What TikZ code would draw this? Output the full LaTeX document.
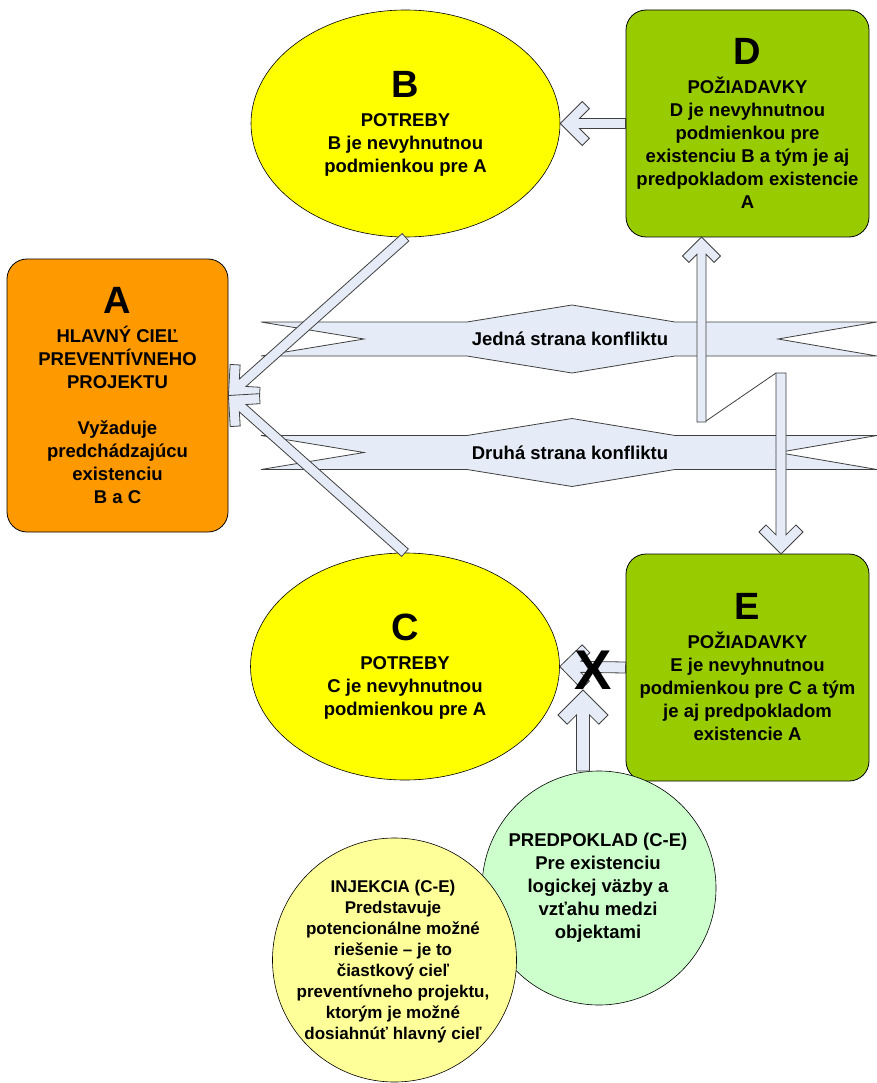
\documentclass[tikz,border=0pt]{standalone}
\usepackage{fontspec}
\setmainfont{Liberation Sans}
\usetikzlibrary{calc,shapes.geometric,positioning,backgrounds}

\definecolor{orangeA}{HTML}{FF9900}
\definecolor{greenD}{HTML}{99CC00}
\definecolor{yellowB}{HTML}{FFFF00}
\definecolor{paleyellow}{HTML}{FFFF99}
\definecolor{palegreen}{HTML}{CCFFCC}
\definecolor{arrowfill}{HTML}{E6ECF7}
\definecolor{arrowline}{HTML}{404040}

\newcommand{\bigletter}[1]{{\fontsize{38}{40}\selectfont #1}\\[6pt]}

% block arrow with an open chevron head: tail, head, half width, barb
\newcommand{\chevarrow}[4]{%
  \pgfmathsetmacro{\arrThk}{2*#3}
  \pgfmathsetmacro{\arrBa}{#4+0.707*\arrThk}
  \pgfmathsetmacro{\arrBb}{#4-0.707*\arrThk}
  \pgfmathsetmacro{\arrJn}{#3+1.414*\arrThk}
  \draw[fatarrow] (#2)
    -- ($(#2)!#4pt!(#1)!#4pt!90:(#1)$)
    -- ($(#2)!\arrBa pt!(#1)!\arrBb pt!90:(#1)$)
    -- ($(#2)!\arrJn pt!(#1)!#3pt!90:(#1)$)
    -- ($(#1)!#3pt!-90:(#2)$)
    -- ($(#1)!#3pt!90:(#2)$)
    -- ($(#2)!\arrJn pt!(#1)!#3pt!-90:(#1)$)
    -- ($(#2)!\arrBa pt!(#1)!\arrBb pt!-90:(#1)$)
    -- ($(#2)!#4pt!(#1)!#4pt!-90:(#1)$)
    -- cycle;}

\begin{document}
\begin{tikzpicture}
    [x=1pt, y=-1pt,
    every node/.style={font=\bfseries\fontsize{18.5}{23}\selectfont, align=center, inner sep=0pt},
    roundbox/.style={draw=black, line width=0.8pt, rounded corners=20pt, minimum width=243pt, minimum height=227pt},
    oval/.style={ellipse, draw=black, line width=0.6pt, fill=yellowB, minimum width=309pt, minimum height=227pt},
    bubble/.style={circle, draw=black, line width=0.6pt},
    smalltext/.style={font=\bfseries\fontsize{17}{21}\selectfont},
    band/.style={draw=arrowline, line width=0.8pt, fill=arrowfill},
    fatarrow/.style={draw=arrowline, line width=0.8pt, fill=arrowfill, line join=miter}]
    \path[use as bounding box, fill=white] (0,0) rectangle (877,1083);

    \node[roundbox, fill=orangeA, minimum width=221pt, minimum height=273pt] (A) at (117.5,395.5)
      {\bigletter{A}HLAVNÝ CIEĽ\\ PREVENTÍVNEHO\\ PROJEKTU\\[23pt] Vyžaduje\\ predchádzajúcu\\ existenciu\\ B a C};
    \node[oval] (B) at (405.5,123.5)
      {\bigletter{B}POTREBY\\ B je nevyhnutnou\\ podmienkou pre A};
    \node[oval] (C) at (405,666.5)
      {\bigletter{C}POTREBY\\ C je nevyhnutnou\\ podmienkou pre A};
    \node[roundbox, fill=greenD] (D) at (747.5,123.5)
      {\bigletter{D}POŽIADAVKY\\ D je nevyhnutnou\\ podmienkou pre\\ existenciu B a tým je aj\\ predpokladom existencie\\ A};
    \node[roundbox, fill=greenD] (E) at (747.5,667.5)
      {\bigletter{E}POŽIADAVKY\\ E je nevyhnutnou\\ podmienkou pre C a tým\\ je aj predpokladom\\ existencie A};

    % conflict bands
    \foreach \yy/\txt/\nm in {339/Jedná strana konfliktu/J1, 452.5/Druhá strana konfliktu/J2} {
      \draw[band] (261,\yy-17) -- (467,\yy-17) -- (572,\yy-34) -- (675,\yy-17) -- (877,\yy-17)
        -- (778,\yy) -- (877,\yy+17) -- (675,\yy+17) -- (572,\yy+34) -- (467,\yy+17)
        -- (261,\yy+17) -- (364,\yy) -- cycle;
      \node (\nm) at (570,\yy) {\txt};
    }

    \coordinate (dtip) at (701.5,237);
    \coordinate (dtail) at (701.5,422);
    \coordinate (etail) at (781,373);
    \coordinate (etip) at (781,554);
    \coordinate (ptail) at (583,771);
    \coordinate (ptip) at (583,690);
    \coordinate (zigA) at (706,421);
    \coordinate (zigB) at (776,373);

    \chevarrow{B.south}{A.east}{5}{22}
    \chevarrow{C.north}{A.east}{5}{22}
    \chevarrow{D.west}{B.east}{5}{22}
    \chevarrow{dtail}{dtip}{4.5}{19}
    \chevarrow{etail}{etip}{5}{22}
    \chevarrow{E.west}{C.east}{5.5}{22}
    \draw[arrowline, line width=0.8pt] (zigA) -- (zigB);

    \node[bubble, fill=palegreen, minimum size=234pt] (P) at (599,888) {};
    \node (Ptext) at (598,887.5)
      {PREDPOKLAD (C-E)\\ Pre existenciu\\ logickej väzby a\\ vzťahu medzi\\ objektami};
    \chevarrow{ptail}{ptip}{6.5}{25}
    \node[font=\bfseries\fontsize{56}{56}\selectfont] (nox) at (593,670) {X};

    \node[bubble, fill=paleyellow, minimum size=244pt] (I) at (394.5,960) {};
    \node[smalltext] (Itext) at (393,961.5)
      {INJEKCIA (C-E)\\ Predstavuje\\ potencionálne možné\\ riešenie – je to\\ čiastkový cieľ\\ preventívneho projektu,\\ ktorým je možné\\ dosiahnúť hlavný cieľ};
\end{tikzpicture}
\end{document}
